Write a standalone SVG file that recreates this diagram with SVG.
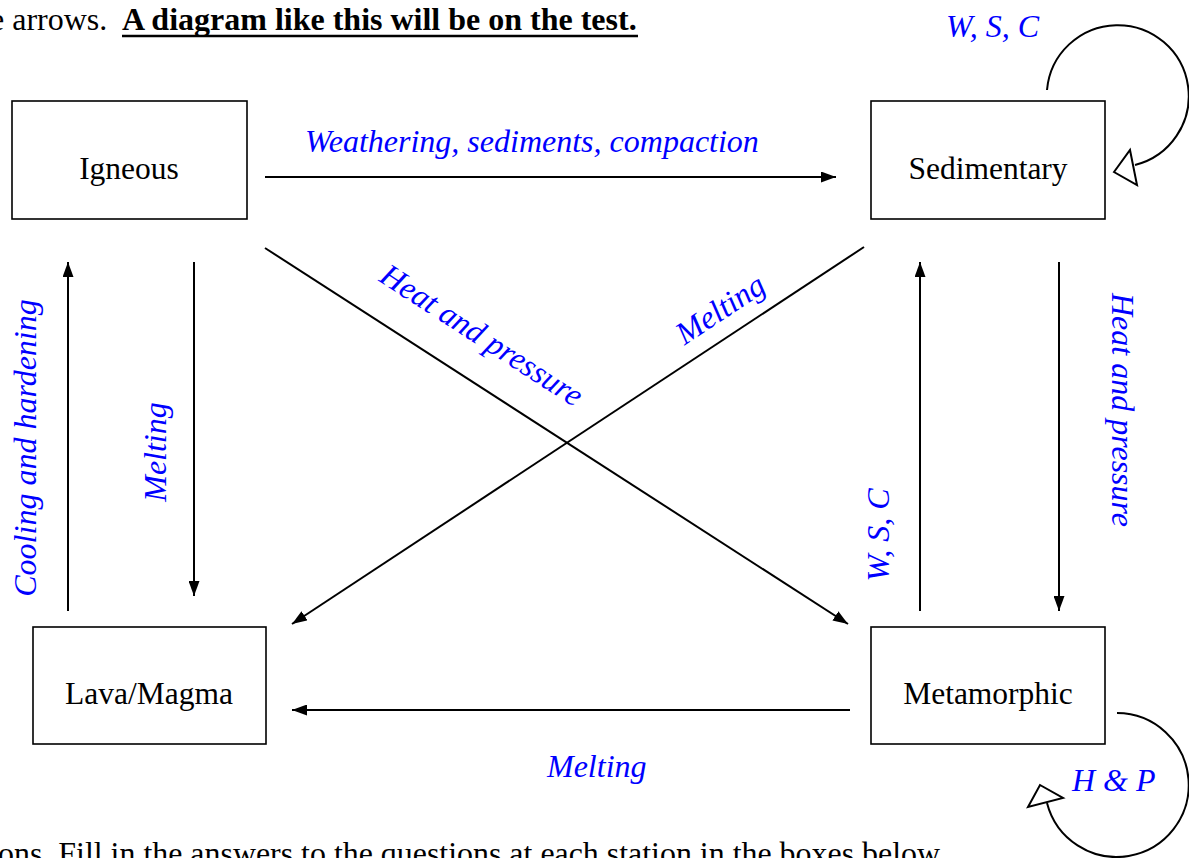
<svg xmlns="http://www.w3.org/2000/svg" width="1189" height="858" viewBox="0 0 1189 858">
<style>
.box{fill:#fff;stroke:#000;stroke-width:1.6}
.lbl{font-family:"Liberation Serif","Times New Roman",serif;font-size:31.5px;fill:#000;text-anchor:middle}
.it{font-family:"Liberation Serif","Times New Roman",serif;font-size:32px;font-style:italic;fill:#0000ff}
.ln{stroke:#000;stroke-width:2;fill:none}
.hd{font-family:"Liberation Serif","Times New Roman",serif;font-size:32px;fill:#000}
</style>
<defs>
<marker id="ah" viewBox="0 0 15 11" refX="15" refY="5.5" markerWidth="15" markerHeight="11" markerUnits="userSpaceOnUse" orient="auto">
<path d="M0,0 L15,5.5 L0,11 Z" fill="#000"/>
</marker>
</defs>
<rect width="1189" height="858" fill="#fff"/>
<text class="hd" x="-10" y="30">e arrows.</text>
<text class="hd" x="122" y="30" font-weight="bold">A diagram like this will be on the test.</text>
<line x1="122" y1="36" x2="638" y2="36" stroke="#000" stroke-width="2.5"/>
<text class="hd" x="-2" y="864" textLength="942" lengthAdjust="spacingAndGlyphs">ons. Fill in the answers to the questions at each station in the boxes below</text>

<g id="igneous"><rect class="box" x="12" y="101" width="235" height="118"/><text class="lbl" x="129" y="179">Igneous</text></g>
<g id="sedimentary"><rect class="box" x="871" y="101" width="234" height="118"/><text class="lbl" x="988" y="179">Sedimentary</text></g>
<g id="lava"><rect class="box" x="33" y="627" width="233" height="117"/><text class="lbl" x="149" y="704">Lava/Magma</text></g>
<g id="metamorphic"><rect class="box" x="871" y="627" width="234" height="117"/><text class="lbl" x="988" y="704">Metamorphic</text></g>

<g id="connectors">
<line class="ln" x1="265" y1="177" x2="836" y2="177" marker-end="url(#ah)"/>
<line class="ln" x1="265" y1="248" x2="848" y2="624" marker-end="url(#ah)"/>
<line class="ln" x1="864" y1="247" x2="292" y2="624" marker-end="url(#ah)"/>
<line class="ln" x1="68" y1="611" x2="68" y2="262" marker-end="url(#ah)"/>
<line class="ln" x1="194" y1="262" x2="194" y2="596" marker-end="url(#ah)"/>
<line class="ln" x1="920" y1="611" x2="920" y2="262" marker-end="url(#ah)"/>
<line class="ln" x1="1059" y1="262" x2="1059" y2="611" marker-end="url(#ah)"/>
<line class="ln" x1="850" y1="710" x2="292" y2="710" marker-end="url(#ah)"/>
<path class="ln" d="M1047,90 A71,71 0 1 1 1135,165"/>
<polygon points="1114,172 1130,150 1137,185" fill="#fff" stroke="#000" stroke-width="2"/>
<path class="ln" d="M1117,713 A72,72 0 1 1 1047,803"/>
<polygon points="1028,807 1040,785 1063,798" fill="#fff" stroke="#000" stroke-width="2"/>
</g>

<g id="labels">
<text class="it" x="305" y="152">Weathering, sediments, compaction</text>
<text class="it" x="946" y="37">W, S, C</text>
<text class="it" x="1072" y="791">H &amp; P</text>
<text class="it" x="547" y="777">Melting</text>
<text class="it" text-anchor="middle" transform="translate(36,448) rotate(-90)">Cooling and hardening</text>
<text class="it" text-anchor="middle" transform="translate(166,452) rotate(-90)">Melting</text>
<text class="it" text-anchor="middle" transform="translate(889,535) rotate(-90)">W, S, C</text>
<text class="it" text-anchor="middle" transform="translate(1112,410) rotate(90)">Heat and pressure</text>
<text class="it" text-anchor="middle" transform="translate(476,344) rotate(32.8)">Heat and pressure</text>
<text class="it" text-anchor="middle" transform="translate(726,318) rotate(-33.5)">Melting</text>
</g>
</svg>
